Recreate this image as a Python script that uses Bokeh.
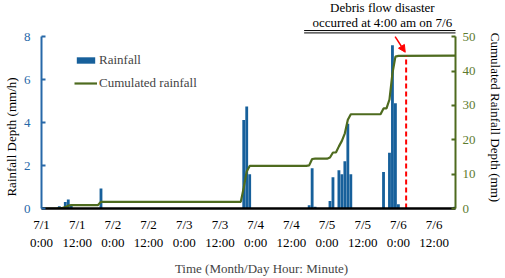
from bokeh.plotting import figure
from bokeh.models import (Range1d, LinearAxis, FixedTicker, Label, Arrow, NormalHead,
                          Legend, LegendItem)
from bokeh.embed import file_html
from bokeh.resources import INLINE

FONT = "Liberation Serif"
NB = "\u00a0"

# Hourly rainfall (hour since 7/1 0:00, mm/h)
rain_hours = [6, 8, 9, 10, 20, 68, 69, 70, 90, 91, 92, 97, 98, 100, 101, 102, 103, 104,
              115, 117, 118, 119, 120, 139]
rain_mm = [0.10, 0.30, 0.42, 0.18, 0.93, 4.12, 4.75, 1.60, 0.15, 1.87, 0.08, 0.35, 1.46,
           1.78, 1.60, 2.20, 3.95, 1.60, 1.70, 2.60, 7.60, 4.90, 0.20, 0.08]

# Cumulated rainfall (mm) at hour marks
cum_hours = [0, 5, 6, 7, 8, 9, 10, 19, 20, 67, 68, 69, 70, 89, 90, 91, 92, 96, 97, 98, 99,
             100, 101, 102, 103, 104, 114, 115, 116, 117, 118, 119, 120, 140]
cum_mm = [0, 0, 0.1, 0.1, 0.4, 0.82, 1.0, 1.0, 1.93, 1.93, 6.05, 10.8, 12.4, 12.4, 12.55,
          14.42, 14.5, 14.5, 14.85, 16.31, 16.31, 18.09, 19.69, 21.89, 25.84, 27.44, 27.44,
          29.14, 29.14, 31.74, 39.34, 44.24, 44.44, 44.5]

tick_hours = [0, 12, 24, 36, 48, 60, 72, 84, 96, 108, 120, 132]
tick_days = ["7/1", "7/1", "7/2", "7/2", "7/3", "7/3", "7/4", "7/4", "7/5", "7/5", "7/6", "7/6"]
tick_times = ["0:00", "12:00", "0:00", "12:00", "0:00", "12:00", "0:00", "12:00",
              "0:00", "12:00", "0:00", "12:00"]

left_ticks = [0, 2, 4, 6, 8]
right_ticks = [0, 10, 20, 30, 40, 50]

event_hour = 122.6
event_cum = 44.44

BAR_COLOR = "#17609b"
LEFT_COLOR = "#2768a8"
LINE_COLOR = "#4e6b1f"
RIGHT_COLOR = "#5d7b2f"

# frame spans whole height above the x axis; axes are bounded to 0-8 / 0-50
p = figure(width=505, height=278, output_backend="svg", toolbar_location=None,
           x_range=Range1d(0, 139.2), y_range=Range1d(0, 9.69),
           min_border_left=36, min_border_right=50, min_border_top=0, min_border_bottom=66)
p.extra_y_ranges = {"cum": Range1d(0, 60.57)}
p.outline_line_color = None
p.xgrid.visible = False
p.ygrid.visible = False
p.background_fill_color = "white"

bars = p.vbar(x=rain_hours, top=rain_mm, width=0.95, bottom=0,
              fill_color=BAR_COLOR, line_color=None)
line = p.line(x=cum_hours, y=cum_mm, y_range_name="cum", line_color=LINE_COLOR, line_width=2.2)
p.segment(x0=[event_hour], y0=[0], x1=[event_hour], y1=[event_cum], y_range_name="cum",
          line_color="#ff0000", line_width=2, line_dash="5 3")

# x axis
xa = p.xaxis[0]
xa.ticker = FixedTicker(ticks=tick_hours)
xa.major_label_overrides = {h: f"{d}\n{t}" for h, d, t in zip(tick_hours, tick_days, tick_times)}
xa.major_tick_in = 0
xa.major_tick_out = 0
xa.minor_tick_in = 0
xa.minor_tick_out = 0
xa.axis_line_color = "black"
xa.axis_line_width = 2.5
xa.major_label_text_font = FONT
xa.major_label_text_font_size = "13px"
xa.major_label_text_color = "black"
xa.major_label_standoff = 8
xa.axis_label = NB * 8 + "Time (Month/Day Hour: Minute)"
xa.axis_label_text_font = FONT
xa.axis_label_text_font_size = "13px"
xa.axis_label_text_font_style = "normal"
xa.axis_label_standoff = 8

# left axis
ya = p.yaxis[0]
ya.ticker = FixedTicker(ticks=left_ticks)
ya.bounds = (0, 8)
ya.minor_tick_in = 0
ya.minor_tick_out = 0
ya.major_tick_in = 4
ya.major_tick_out = 0
ya.axis_line_color = LEFT_COLOR
ya.major_tick_line_color = LEFT_COLOR
ya.axis_line_width = 2
ya.major_tick_line_width = 2
ya.major_label_text_color = LEFT_COLOR
ya.major_label_text_font = FONT
ya.major_label_text_font_size = "13px"
ya.major_label_standoff = 11
ya.axis_label = "Rainfall Depth (mm/h)" + NB * 20
ya.axis_label_text_font = FONT
ya.axis_label_text_font_size = "13px"
ya.axis_label_text_font_style = "normal"
ya.axis_label_text_color = "black"
ya.axis_label_standoff = 2

# right axis
ra = LinearAxis(y_range_name="cum", ticker=FixedTicker(ticks=right_ticks), bounds=(0, 50))
ra.minor_tick_in = 0
ra.minor_tick_out = 0
ra.major_tick_in = 4
ra.major_tick_out = 0
ra.axis_line_color = LINE_COLOR
ra.major_tick_line_color = LINE_COLOR
ra.axis_line_width = 2
ra.major_tick_line_width = 2
ra.major_label_text_color = RIGHT_COLOR
ra.major_label_text_font = FONT
ra.major_label_text_font_size = "13px"
ra.major_label_standoff = 7
ra.axis_label = NB * 8 + "Cumulated Rainfall Depth (mm)"
ra.axis_label_text_font = FONT
ra.axis_label_text_font_size = "13px"
ra.axis_label_text_font_style = "normal"
ra.axis_label_text_color = "black"
ra.axis_label_standoff = 9
p.add_layout(ra, "right")

# legend
legend = Legend(items=[LegendItem(label="Rainfall", renderers=[bars]),
                       LegendItem(label="Cumulated rainfall", renderers=[line])],
                location=(33, 117), glyph_width=23, glyph_height=8, label_height=16,
                label_standoff=2, padding=0, spacing=7, margin=0,
                border_line_alpha=0, background_fill_alpha=0,
                label_text_font=FONT, label_text_font_size="13px")
p.add_layout(legend)

# annotation
p.add_layout(Label(x=114.6, y=9.38, text="Debris flow disaster", text_align="center",
                   text_baseline="middle", text_font=FONT, text_font_size="13px",
                   text_color="black"))
p.add_layout(Label(x=114.6, y=8.65, text="occurred at 4:00 am on 7/6", text_align="center",
                   text_baseline="middle", text_font=FONT, text_font_size="13px",
                   text_color="black"))
for yy in (8.29, 8.18):
    p.add_layout(Arrow(end=None, x_start=88.3, y_start=yy, x_end=140.9, y_end=yy,
                       line_color="black", line_width=1))
p.add_layout(Arrow(end=NormalHead(size=7, fill_color="#ff0000", line_color="#ff0000"),
                   x_start=118.9, y_start=8.01, x_end=122.3, y_end=7.28,
                   line_color="#ff0000", line_width=1.5))

open("out.html", "w").write(file_html(p, INLINE))
